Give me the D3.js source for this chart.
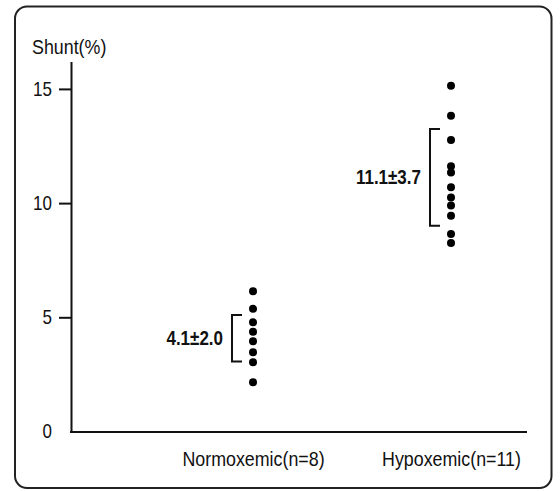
<!DOCTYPE html>
<html>
<head>
<meta charset="utf-8">
<script src="https://cdn.jsdelivr.net/npm/d3@7"></script>
<style>
	body { margin: 0; background: #fff; }
	text { font-family: "Liberation Sans", Arial, sans-serif; fill: #111; }
</style>
</head>
<body>
<svg id="main_svg"></svg>
<script>
const WIDTH = 560;
const HEIGHT = 491;
const NARROW = 0.85; // squeeze the text, the figure uses a condensed face

// values
const groups = ['Normoxemic(n=8)', 'Hypoxemic(n=11)'];
const normoxemic = [6.14, 5.37, 4.78, 4.37, 3.95, 3.47, 3.03, 2.16];
const hypoxemic = [15.14, 13.82, 12.76, 11.61, 11.34, 10.69, 10.25, 9.89, 9.45, 8.65, 8.25];
const summary_labels = ['4.1\u00b12.0', '11.1\u00b13.7'];
const bracket_low = [3.06, 9.01];
const bracket_high = [5.10, 13.25];
const y_ticks = [0, 5, 10, 15];
const y_title = 'Shunt(%)';

// scale text horizontally round x = 0, keep its place
const condense = sel => {
	sel.each(function() {
		const t = d3.select(this);
		const x = +t.attr('x') || 0;
		t.attr('x', x / NARROW).attr('transform', `scale(${NARROW},1)`);
	});
};

const svg = d3.select('#main_svg').attr('width', WIDTH).attr('height', HEIGHT);

// frame round the figure
svg.append('rect')
	.attr('x', 15).attr('y', 6.5)
	.attr('width', 536.5).attr('height', 481.5)
	.attr('rx', 12)
	.attr('fill', 'none')
	.attr('stroke', '#222')
	.attr('stroke-width', 2);

const x_scale = d3.scalePoint()
	.domain(groups)
	.range([253, 451]);

const y_scale = d3.scaleLinear()
	.domain([0, 16.2])
	.range([431.5, 61.5]);

// y axis
const y_axis = svg.append('g')
	.attr('transform', 'translate(71,0)')
	.call(d3.axisLeft(y_scale)
		.tickValues(y_ticks)
		.tickSize(12)
		.tickSizeOuter(0)
		.tickPadding(7)
		.tickFormat(d => d));

y_axis.select('.domain').attr('stroke', '#111').attr('stroke-width', 2);
y_axis.selectAll('.tick line').attr('stroke', '#111').attr('stroke-width', 2)
	.filter(d => d === 0).remove();
y_axis.selectAll('.tick text')
	.attr('font-size', '20px')
	.attr('font-family', null)
	.attr('fill', '#111')
	.call(condense);

svg.append('text')
	.attr('x', 32)
	.attr('y', 54)
	.attr('font-size', '21px')
	.text(y_title)
	.call(condense);

// x axis
svg.append('line')
	.attr('x1', 70).attr('x2', 527)
	.attr('y1', 432).attr('y2', 432)
	.attr('stroke', '#111')
	.attr('stroke-width', 2);

const x_axis = svg.append('g')
	.attr('transform', 'translate(0,432)')
	.call(d3.axisBottom(x_scale).tickSize(0));

x_axis.select('.domain').remove();
x_axis.selectAll('.tick text')
	.attr('font-size', '21px')
	.attr('fill', '#111')
	.attr('y', 34)
	.attr('dy', 0)
	.call(condense);
x_axis.attr('font-family', null);
y_axis.attr('font-family', null);

// dots
const series = [normoxemic, hypoxemic];
series.forEach((values, i) => {
	const cx = x_scale(groups[i]);

	svg.selectAll(`.dot_${i}`)
		.data(values)
		.enter()
		.append('circle')
		.attr('class', `dot_${i}`)
		.attr('cx', cx)
		.attr('cy', d => y_scale(d))
		.attr('r', 4)
		.attr('fill', '#000');

	// bracket for the spread
	const bx = cx - 21;
	const top = y_scale(bracket_high[i]);
	const bottom = y_scale(bracket_low[i]);
	svg.append('path')
		.attr('d', `M${bx + 10},${top}H${bx}V${bottom}H${bx + 10}`)
		.attr('fill', 'none')
		.attr('stroke', '#111')
		.attr('stroke-width', 2);

	svg.append('text')
		.attr('x', bx - 9)
		.attr('y', (top + bottom) / 2)
		.attr('dy', '0.35em')
		.attr('text-anchor', 'end')
		.attr('font-size', '20px')
		.attr('font-weight', 'bold')
		.text(summary_labels[i])
		.call(condense);
});
</script>
</body>
</html>
